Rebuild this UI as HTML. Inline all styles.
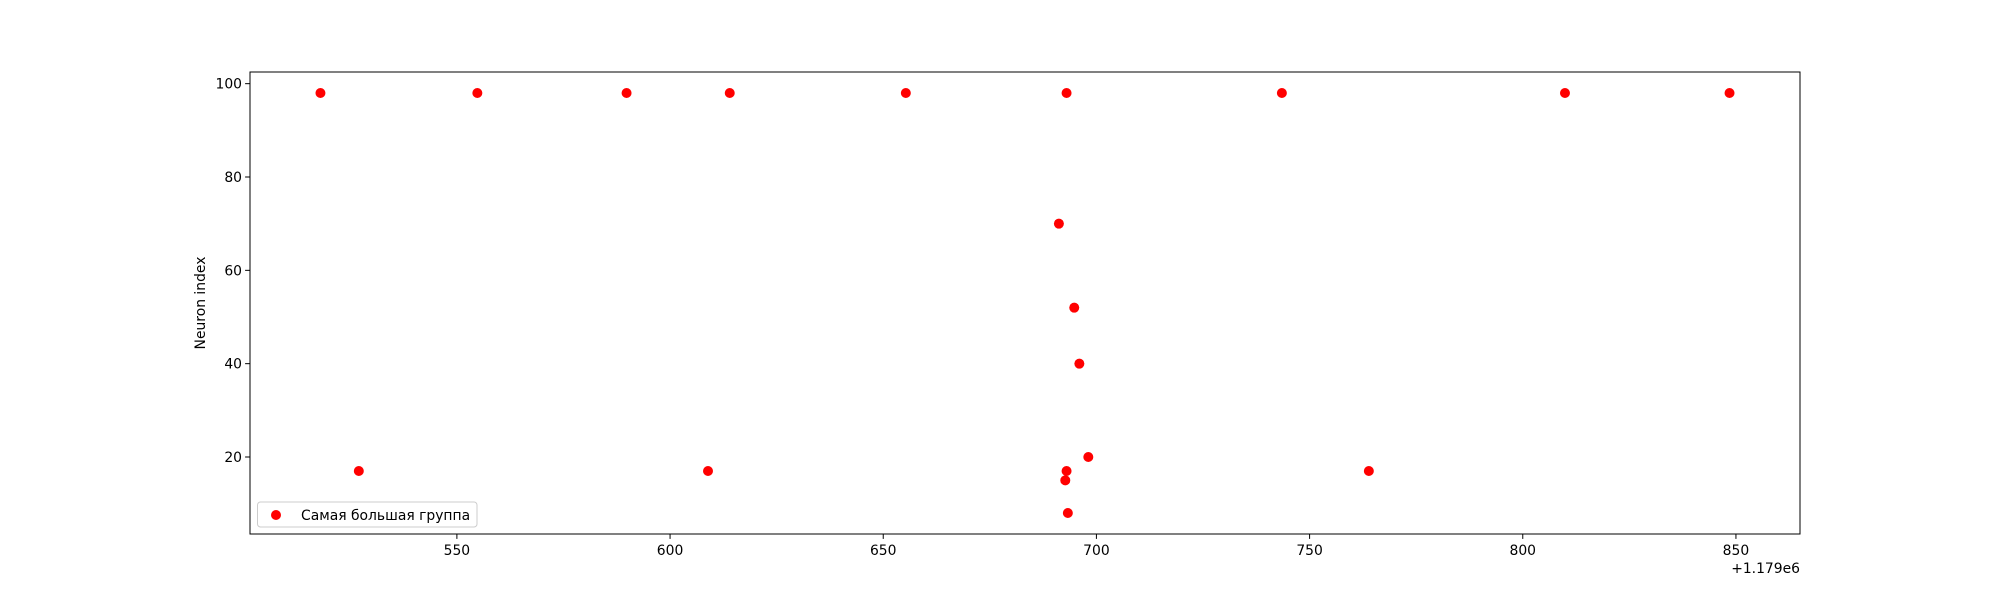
<!DOCTYPE html>
<html><head><meta charset="utf-8"><style>html,body{margin:0;padding:0;background:#fff}svg{display:block}text{font-family:"DejaVu Sans","Liberation Sans",sans-serif;font-size:13.9px;fill:#000}</style></head>
<body>
<svg id="chart" width="2000" height="600" xmlns="http://www.w3.org/2000/svg">
<rect x="0" y="0" width="2000" height="600" fill="#fff"/>
<g id="marks"></g>
<rect x="250" y="72" width="1550" height="462" fill="none" stroke="#000" stroke-width="1"/>
<g id="xticks"></g>
<g id="yticks"></g>
<text transform="translate(205,303) rotate(-90)" text-anchor="middle">Neuron index</text>
<text x="1800" y="573" text-anchor="end">+1.179e6</text>
<g>
<rect x="257.5" y="502" width="219.5" height="25" rx="3" fill="#fff" stroke="#ccc" stroke-width="1"/>
<circle cx="276" cy="515" r="5" fill="red"/>
<text x="301" y="520">Самая большая группа</text>
</g>
</svg>
<script>
const xValues = [518.0, 554.8, 589.8, 614.0, 655.3, 693.0, 743.5, 809.9, 848.5, 527.0, 608.9, 691.2, 694.8, 696.0, 698.1, 693.0, 692.7, 693.3, 763.9];
const yValues = [98, 98, 98, 98, 98, 98, 98, 98, 98, 17, 17, 70, 52, 40, 20, 17, 15, 8, 17];
const xTickLabels = [550, 600, 650, 700, 750, 800, 850];
const yTickLabels = [20, 40, 60, 80, 100];

const NS = "http://www.w3.org/2000/svg";
const L = 250, R = 1800, T = 72, B = 534;
const xmin0 = Math.min(...xValues), xmax0 = Math.max(...xValues);
const ymin0 = Math.min(...yValues), ymax0 = Math.max(...yValues);
const xm = (xmax0 - xmin0) * 0.05, ym = (ymax0 - ymin0) * 0.05;
const xmin = xmin0 - xm, xmax = xmax0 + xm, ymin = ymin0 - ym, ymax = ymax0 + ym;
function sx(v) { return L + (v - xmin) / (xmax - xmin) * (R - L); }
function sy(v) { return B - (v - ymin) / (ymax - ymin) * (B - T); }

const marks = document.getElementById('marks');
for (let i = 0; i < xValues.length; i++) {
  const c = document.createElementNS(NS, 'circle');
  c.setAttribute('cx', sx(xValues[i]));
  c.setAttribute('cy', sy(yValues[i]));
  c.setAttribute('r', 5);
  c.setAttribute('fill', 'red');
  
  
  marks.appendChild(c);
}
const xt = document.getElementById('xticks');
xTickLabels.forEach(v => {
  const x = sx(v);
  const l = document.createElementNS(NS, 'line');
  l.setAttribute('x1', x); l.setAttribute('x2', x);
  l.setAttribute('y1', B); l.setAttribute('y2', B + 4.9);
  l.setAttribute('stroke', '#000');
  
  
  xt.appendChild(l);
  const t = document.createElementNS(NS, 'text');
  t.setAttribute('x', x); t.setAttribute('y', B + 21);
  t.setAttribute('text-anchor', 'middle');
  t.textContent = v;
  
  
  xt.appendChild(t);
});
const yt = document.getElementById('yticks');
yTickLabels.forEach(v => {
  const y = sy(v);
  const l = document.createElementNS(NS, 'line');
  l.setAttribute('x1', L - 4.9); l.setAttribute('x2', L);
  l.setAttribute('y1', y); l.setAttribute('y2', y);
  l.setAttribute('stroke', '#000');
  
  
  yt.appendChild(l);
  const t = document.createElementNS(NS, 'text');
  t.setAttribute('x', L - 8); t.setAttribute('y', y + 5);
  t.setAttribute('text-anchor', 'end');
  t.textContent = v;
  
  
  yt.appendChild(t);
});
</script>
</body></html>
